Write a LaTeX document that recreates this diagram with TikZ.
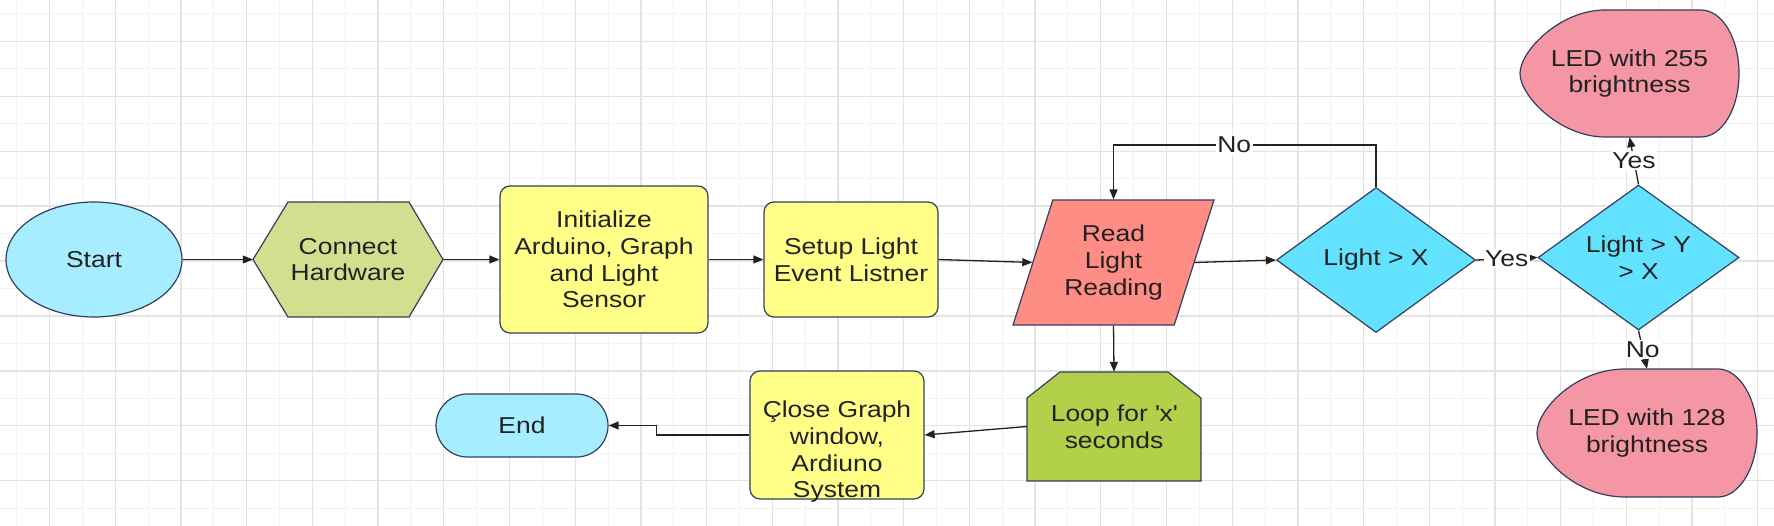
\documentclass[tikz,border=0pt]{standalone}
\usepackage{fontspec}
\setmainfont[FakeStretch=1.15]{Liberation Sans}
\usetikzlibrary{arrows.meta,shapes.geometric,shapes.misc}
\definecolor{Ink}{HTML}{222222}
\definecolor{Edge}{HTML}{343E5E}
\definecolor{GridMinor}{HTML}{F2F2F2}
\definecolor{GridMajor}{HTML}{E3E3E3}
\definecolor{Sky}{HTML}{A6EDFF}
\definecolor{Olive}{HTML}{D3DF8E}
\definecolor{Lemon}{HTML}{FFFF88}
\definecolor{Salmon}{HTML}{FD8D85}
\definecolor{Aqua}{HTML}{63E2FF}
\definecolor{Rose}{HTML}{F496A3}
\definecolor{Lime}{HTML}{B2D04A}

\begin{document}
\begin{tikzpicture}[x=1pt,y=-1pt,
    every node/.style={font=\fontsize{23}{26.7}\selectfont,text=Ink,align=center,inner sep=0pt},
    outline/.style={draw=Edge,line width=1.2pt},
    terminal/.style={outline,fill=Sky},
    procbox/.style={outline,fill=Lemon,rounded corners=10pt},
    decision/.style={outline,fill=Aqua,shape=diamond,aspect=1.37},
    flow/.style={draw=Ink,line width=1.3pt,-{Triangle[length=10pt,width=8pt]}},
    edgelabel/.style={fill=white,inner sep=1.5pt}]
    \useasboundingbox (0,0) rectangle (1774,526);
    \fill[white] (0,0) rectangle (1774,526);

    % grid
    \foreach \j in {0,...,26} \draw[GridMinor,line width=1pt] ({16.7+65.7*\j},0) -- ++(0,526);
    \foreach \j in {0,...,9} \draw[GridMinor,line width=1pt] (0,{14+54.9*\j}) -- ++(1774,0);
    \foreach \j in {0,...,26} \draw[GridMajor,line width=1.3pt] ({49.55+65.7*\j},0) -- ++(0,526);
    \foreach \j in {0,...,8} \draw[GridMajor,line width=1.3pt] (0,{41.45+54.9*\j}) -- ++(1774,0);

    % top row
    \node[terminal,shape=ellipse,minimum width=176pt,minimum height=115pt] (start) at (94,259.5) {Start};

    \filldraw[outline,fill=Olive] (253,259.5) -- (288,202) -- (409,202) -- (443,259.5) -- (409,317) -- (288,317) -- cycle;
    \node[minimum width=190pt,minimum height=115pt] (hw) at (348,259.5) {Connect\\Hardware};

    \node[procbox,minimum width=208pt,minimum height=147pt] (init) at (604,259.5) {Initialize\\Arduino, Graph\\and Light\\Sensor};
    \node[procbox,minimum width=174pt,minimum height=115pt] (setup) at (851,259.5) {Setup Light\\Event Listner};

    \node[outline,fill=Salmon,shape=trapezium,trapezium left angle=62,trapezium right angle=118,
          trapezium stretches body,minimum width=201pt,minimum height=125pt] (read) at (1113.5,262.5) {Read\\Light\\Reading};

    \node[decision,minimum width=199pt,minimum height=145pt] (dec1) at (1376,260) {Light > X};
    \node[decision,minimum width=201pt,minimum height=145pt] (dec2) at (1638.5,257.5) {Light > Y\\> X};

    % outputs
    \filldraw[outline,fill=Rose] (1605,10) -- (1701,10) .. controls (1722,10) and (1739,38) .. (1739,73.5)
        .. controls (1739,109) and (1722,137) .. (1701,137) -- (1605,137)
        .. controls (1560,137) and (1520,96) .. (1520,73.5) .. controls (1520,51) and (1560,10) .. (1605,10) -- cycle;
    \node[minimum width=219pt,minimum height=127pt] (led255) at (1629.5,73.5) {LED with 255\\brightness};

    \filldraw[outline,fill=Rose] (1625,369) -- (1718,369) .. controls (1739,369) and (1757,398) .. (1757,433)
        .. controls (1757,468) and (1739,497) .. (1718,497) -- (1625,497)
        .. controls (1575,497) and (1537,456) .. (1537,433) .. controls (1537,410) and (1575,369) .. (1625,369) -- cycle;
    \node[minimum width=220pt,minimum height=128pt] (led128) at (1647,433) {LED with 128\\brightness};

    % bottom row
    \filldraw[outline,fill=Lime] (1027,398) -- (1060,372) -- (1168,372) -- (1201,398) -- (1201,481) -- (1027,481) -- cycle;
    \node[minimum width=174pt,minimum height=109pt] (loop) at (1114,426.5) {Loop for \textquotesingle x\textquotesingle\\seconds};

    \node[procbox,minimum width=174pt,minimum height=128pt] (close) at (837,435) {};
    \node at ([yshift=-17pt]close.center) {Çlose Graph\\window,\\Ardiuno\\System};

    \node[terminal,shape=rounded rectangle,minimum width=172pt,minimum height=63pt] (end) at (522,425.5) {End};

    % connectors
    \draw[flow] (start.east) -- (hw.west);
    \draw[flow] (hw.east) -- (init.west);
    \draw[flow] (init.east) -- (setup.west);
    \draw[flow] (setup.east) -- (read.west);
    \draw[flow] (read.east) -- (dec1.west);
    \draw[flow] (dec1.north) -- (dec1.north |- 0,145) -| node[pos=0.27,edgelabel] {No} (read.north);
    \draw[flow] (dec1.east) -- node[edgelabel] {Yes} (dec2.west);
    \draw[flow] (dec2.north) -- node[edgelabel] {Yes} (led255.south);
    \draw[flow] (dec2.south) -- node[edgelabel] {No} (led128.north);
    \draw[flow] (read.south) -- (loop.north);
    \draw[flow] (loop.west) -- (close.east);
    \draw[flow] (close.west) -- ++(-93,0) |- (end.east);
  \end{tikzpicture}
\end{document}
